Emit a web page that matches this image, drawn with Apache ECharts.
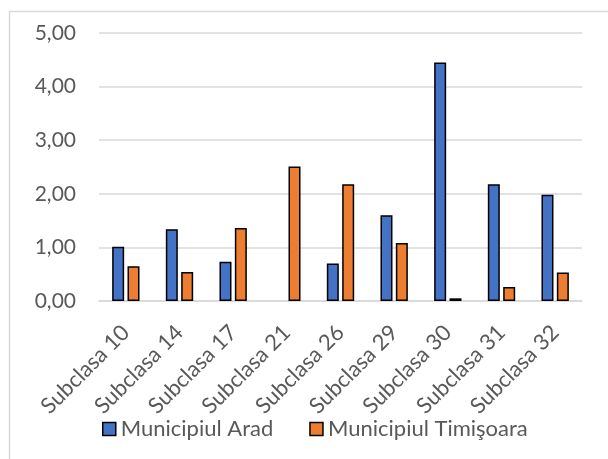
<!DOCTYPE html>
<html>
<head>
<meta charset="utf-8">
<script src="https://cdn.jsdelivr.net/npm/echarts@6/dist/echarts.min.js"></script>
<style>
  html, body { margin: 0; padding: 0; background: #fff; }
  #chart { width: 608px; height: 459px; }
</style>
</head>
<body>
<div id="chart"></div>
<script>
// Categories and values per municipality
const categories = ['Subclasa 10', 'Subclasa 14', 'Subclasa 17', 'Subclasa 21', 'Subclasa 26',
                    'Subclasa 29', 'Subclasa 30', 'Subclasa 31', 'Subclasa 32'];
const arad      = [1.01, 1.34, 0.73, null, 0.70, 1.60, 4.45, 2.18, 1.98];
const timisoara = [0.65, 0.54, 1.36, 2.51, 2.18, 1.08, 0.05, 0.26, 0.53];
const seriesNames = ['Municipiul Arad', 'Municipiul Timişoara'];
const yTicks = [0, 1, 2, 3, 4, 5];

const FONT = 'Lato';
const TEXT = '#595959';

const chart = echarts.init(document.getElementById('chart'), null, { renderer: 'canvas' });

const barStyle = (color) => ({ color: color, borderColor: '#000', borderWidth: 1.5 });

chart.setOption({
  animation: false,
  textStyle: { fontFamily: FONT },
  graphic: [{
    type: 'polyline',
    shape: { points: [[9.5, 470], [9.5, 11.5], [620, 11.5]] },
    style: { stroke: '#d9d9d9', lineWidth: 1.5, fill: null },
    silent: true
  }],
  legend: {
    top: 413,
    left: 97,
    itemWidth: 13,
    itemHeight: 13,
    itemGap: 36,
    icon: 'rect',
    textStyle: { color: TEXT, fontSize: 22, fontFamily: FONT },
    data: seriesNames.map((n, i) => ({
      name: n,
      itemStyle: { color: i === 0 ? '#4472C4' : '#ED7D31', borderColor: '#000', borderWidth: 1.5 }
    }))
  },
  grid: { left: 99, right: 26, top: 33, bottom: 158, containLabel: false },
  xAxis: {
    type: 'category',
    data: categories,
    axisLine: { lineStyle: { color: '#d9d9d9', width: 1.5 } },
    axisTick: { show: false },
    axisLabel: {
      rotate: 45,
      interval: 0,
      margin: 28,
      color: TEXT,
      fontSize: 22,
      fontFamily: FONT
    }
  },
  yAxis: {
    type: 'value',
    min: yTicks[0],
    max: yTicks[yTicks.length - 1],
    interval: 1,
    axisLine: { show: false },
    axisTick: { show: false },
    splitLine: { lineStyle: { color: '#d9d9d9', width: 1.5 } },
    axisLabel: {
      color: TEXT,
      fontSize: 21,
      fontFamily: FONT,
      margin: 23,
      formatter: (v) => v.toFixed(2).replace('.', ',')
    }
  },
  series: [
    {
      name: seriesNames[0],
      type: 'bar',
      data: arad,
      barWidth: 12,
      barGap: '28%',
      itemStyle: barStyle('#4472C4')
    },
    {
      name: seriesNames[1],
      type: 'bar',
      data: timisoara,
      barWidth: 12,
      itemStyle: barStyle('#ED7D31')
    }
  ]
});
</script>
</body>
</html>
